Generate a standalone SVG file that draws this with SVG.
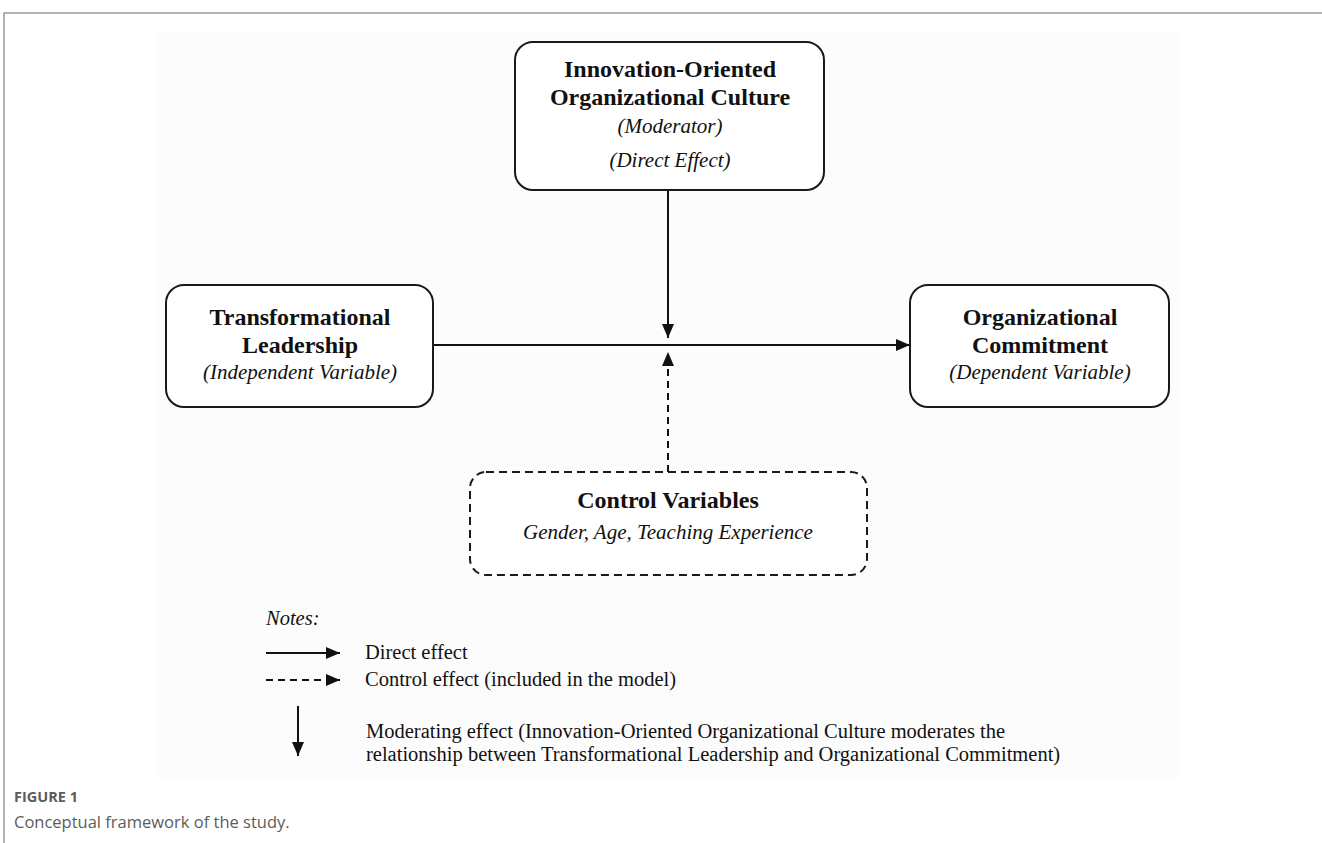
<svg xmlns="http://www.w3.org/2000/svg" width="1322" height="843" viewBox="0 0 1322 843">
<defs>
<style>
.frame{stroke:#9a9a9a;stroke-width:1.5;fill:none}
.box{fill:#ffffff;stroke:#1a1a1a;stroke-width:2}
.dbox{fill:#ffffff;stroke:#1a1a1a;stroke-width:2;stroke-dasharray:8 5}
.t{font-family:"Liberation Serif","Times New Roman",serif;fill:#111;text-anchor:middle}
.b{font-weight:bold;font-size:24px}
.i{font-style:italic;font-size:21px}
.n{font-family:"Liberation Serif","Times New Roman",serif;fill:#111;font-size:20.5px}
.ln{stroke:#111;stroke-width:2;fill:none}
.dl{stroke:#111;stroke-width:2;fill:none;stroke-dasharray:7 5}
.cap{font-family:"Open Sans","Noto Sans",sans-serif;fill:#5c5c5c}
</style>
<marker id="ah" viewBox="0 0 14 12" refX="14" refY="6" markerWidth="14" markerHeight="12" markerUnits="userSpaceOnUse" orient="auto">
<path d="M0,0 L14,6 L0,12 Z" fill="#111"/>
</marker>
</defs>
<rect x="0" y="0" width="1322" height="843" fill="#ffffff"/>
<path class="frame" d="M4,843 V13 H1322"/>
<rect x="156" y="33" width="1024" height="745" fill="#fcfcfc"/>

<g id="connectors">
<line class="ln" x1="433" y1="345" x2="910" y2="345" marker-end="url(#ah)"/>
<line class="ln" x1="668" y1="190" x2="668" y2="338" marker-end="url(#ah)"/>
<line class="dl" x1="668" y1="472" x2="668" y2="352" marker-end="url(#ah)"/>
</g>

<g id="node-culture">
<rect class="box" x="515" y="42" width="309" height="148" rx="18"/>
<text class="t b" x="670" y="77">Innovation-Oriented</text>
<text class="t b" x="670" y="105">Organizational Culture</text>
<text class="t i" x="670" y="133">(Moderator)</text>
<text class="t i" x="670" y="167">(Direct Effect)</text>
</g>

<g id="node-leadership">
<rect class="box" x="166" y="285" width="267" height="122" rx="18"/>
<text class="t b" x="300" y="325">Transformational</text>
<text class="t b" x="300" y="353">Leadership</text>
<text class="t i" x="300" y="379">(Independent Variable)</text>
</g>

<g id="node-commitment">
<rect class="box" x="910" y="285" width="259" height="122" rx="18"/>
<text class="t b" x="1040" y="325">Organizational</text>
<text class="t b" x="1040" y="353">Commitment</text>
<text class="t i" x="1040" y="379">(Dependent Variable)</text>
</g>

<g id="node-control">
<rect class="dbox" x="470" y="472" width="397" height="103" rx="16"/>
<text class="t b" x="668" y="508">Control Variables</text>
<text class="t i" x="668" y="539">Gender, Age, Teaching Experience</text>
</g>

<g id="legend">
<text class="n" x="266" y="625" font-style="italic">Notes:</text>
<line class="ln" x1="266" y1="653" x2="340" y2="653" marker-end="url(#ah)"/>
<text class="n" x="365" y="659">Direct effect</text>
<line class="dl" x1="266" y1="680" x2="340" y2="680" marker-end="url(#ah)"/>
<text class="n" x="365" y="686">Control effect (included in the model)</text>
<line class="ln" x1="298" y1="706" x2="298" y2="756" marker-end="url(#ah)"/>
<text class="n" x="366" y="738">Moderating effect (Innovation-Oriented Organizational Culture moderates the</text>
<text class="n" x="366" y="761">relationship between Transformational Leadership and Organizational Commitment)</text>
</g>

<g id="caption">
<text class="cap" x="14" y="802" font-size="14.5" font-weight="bold">FIGURE 1</text>
<text class="cap" x="14" y="828" font-size="16.5">Conceptual framework of the study.</text>
</g>
</svg>
